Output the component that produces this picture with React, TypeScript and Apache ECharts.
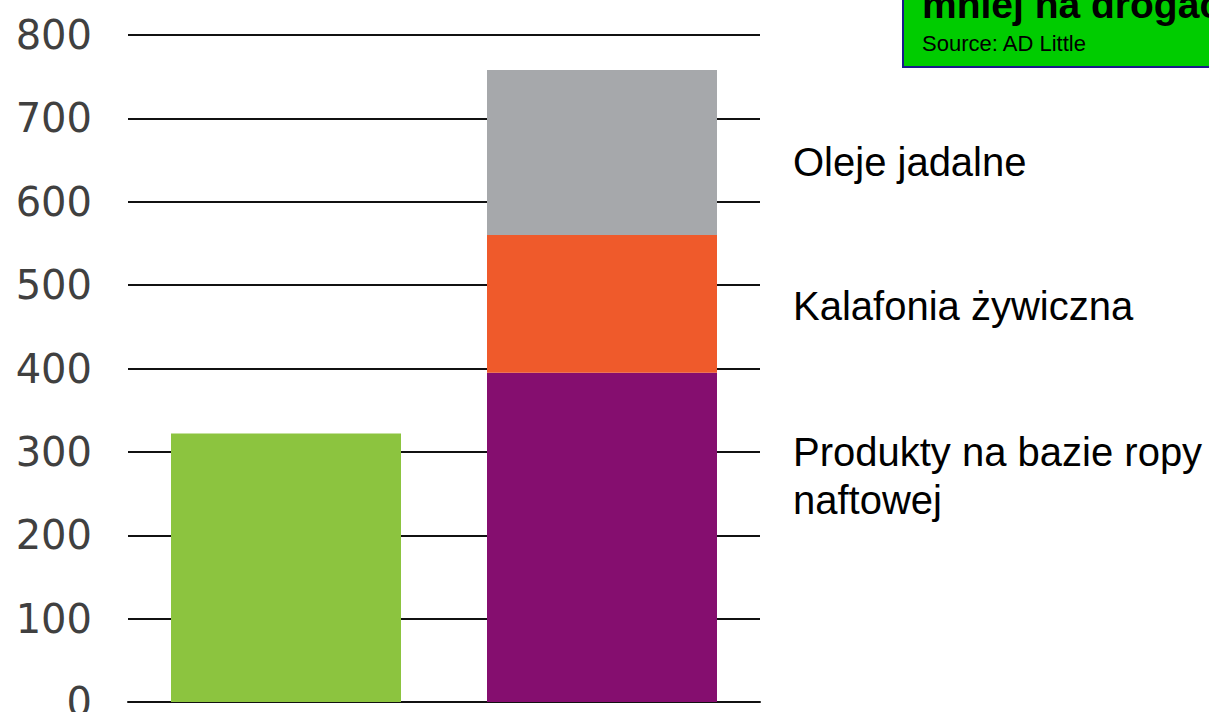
import React, { useEffect, useRef } from "react";
import * as echarts from "echarts";

const categories = ["A", "B"];
const greenValues = [322, null];
const purpleValues = [null, 395];
const orangeValues = [null, 165];
const grayValues = [null, 198];
const legendLabels = ["Oleje jadalne", "Kalafonia żywiczna", "Produkty na bazie ropy\nnaftowej"];

export default function App() {
  const ref = useRef<HTMLDivElement>(null);
  useEffect(() => {
    document.body.style.margin = "0";
    const chart = echarts.init(ref.current!, null, { renderer: "svg" });
    const mk = (name: string, data: any[], color: string) => ({
      name,
      type: "bar",
      stack: "s",
      barWidth: 230,
      data,
      itemStyle: { color },
    });
    chart.setOption({
      animation: false,
      backgroundColor: "#ffffff",
      grid: { left: 128, right: 449, top: 35, bottom: 10, containLabel: false, outerBoundsMode: "none" },
      xAxis: {
        type: "category",
        data: categories,
        axisLine: { lineStyle: { color: "#111", width: 2 } },
        axisTick: { show: false },
        axisLabel: { show: false },
      },
      yAxis: {
        type: "value",
        min: 0,
        max: 800,
        interval: 100,
        axisLine: { show: false },
        axisTick: { show: false },
        splitLine: { lineStyle: { color: "#111", width: 2 } },
        axisLabel: {
          margin: 36,
          color: "#404040",
          fontFamily: "DejaVu Sans",
          fontSize: 40,
        },
      },
      series: [
        mk("green", greenValues, "#8cc43f"),
        mk(legendLabels[2], purpleValues, "#850e6f"),
        mk(legendLabels[1], orangeValues, "#ef5a2b"),
        mk(legendLabels[0], grayValues, "#a6a8ab"),
      ],
      graphic: [
        {
          type: "text",
          x: 793,
          y: 162,
          style: { text: legendLabels[0], font: "40px 'Liberation Sans'", fill: "#000", verticalAlign: "middle" },
        },
        {
          type: "text",
          x: 793,
          y: 306,
          style: { text: legendLabels[1], font: "40px 'Liberation Sans'", fill: "#000", verticalAlign: "middle" },
        },
        {
          type: "text",
          x: 793,
          y: 476,
          style: { text: legendLabels[2], font: "40px 'Liberation Sans'", fill: "#000", lineHeight: 48, verticalAlign: "middle" },
        },
        {
          type: "rect",
          shape: { x: 903, y: -10, width: 320, height: 77 },
          style: { fill: "#00cc00", stroke: "#1a1a8c", lineWidth: 2 },
        },
        {
          type: "text",
          x: 922,
          y: 4,
          style: {
            text: "mniej na drogach",
            font: "bold 39px 'Liberation Sans'",
            fill: "#000",
            verticalAlign: "middle",
          },
        },
        {
          type: "text",
          x: 922,
          y: 43,
          style: {
            text: "Source: AD Little",
            font: "22px 'Liberation Sans'",
            fill: "#000",
            verticalAlign: "middle",
          },
        },
      ],
    });
    return () => chart.dispose();
  }, []);
  return <div ref={ref} style={{ width: 1209, height: 712 }} />;
}
